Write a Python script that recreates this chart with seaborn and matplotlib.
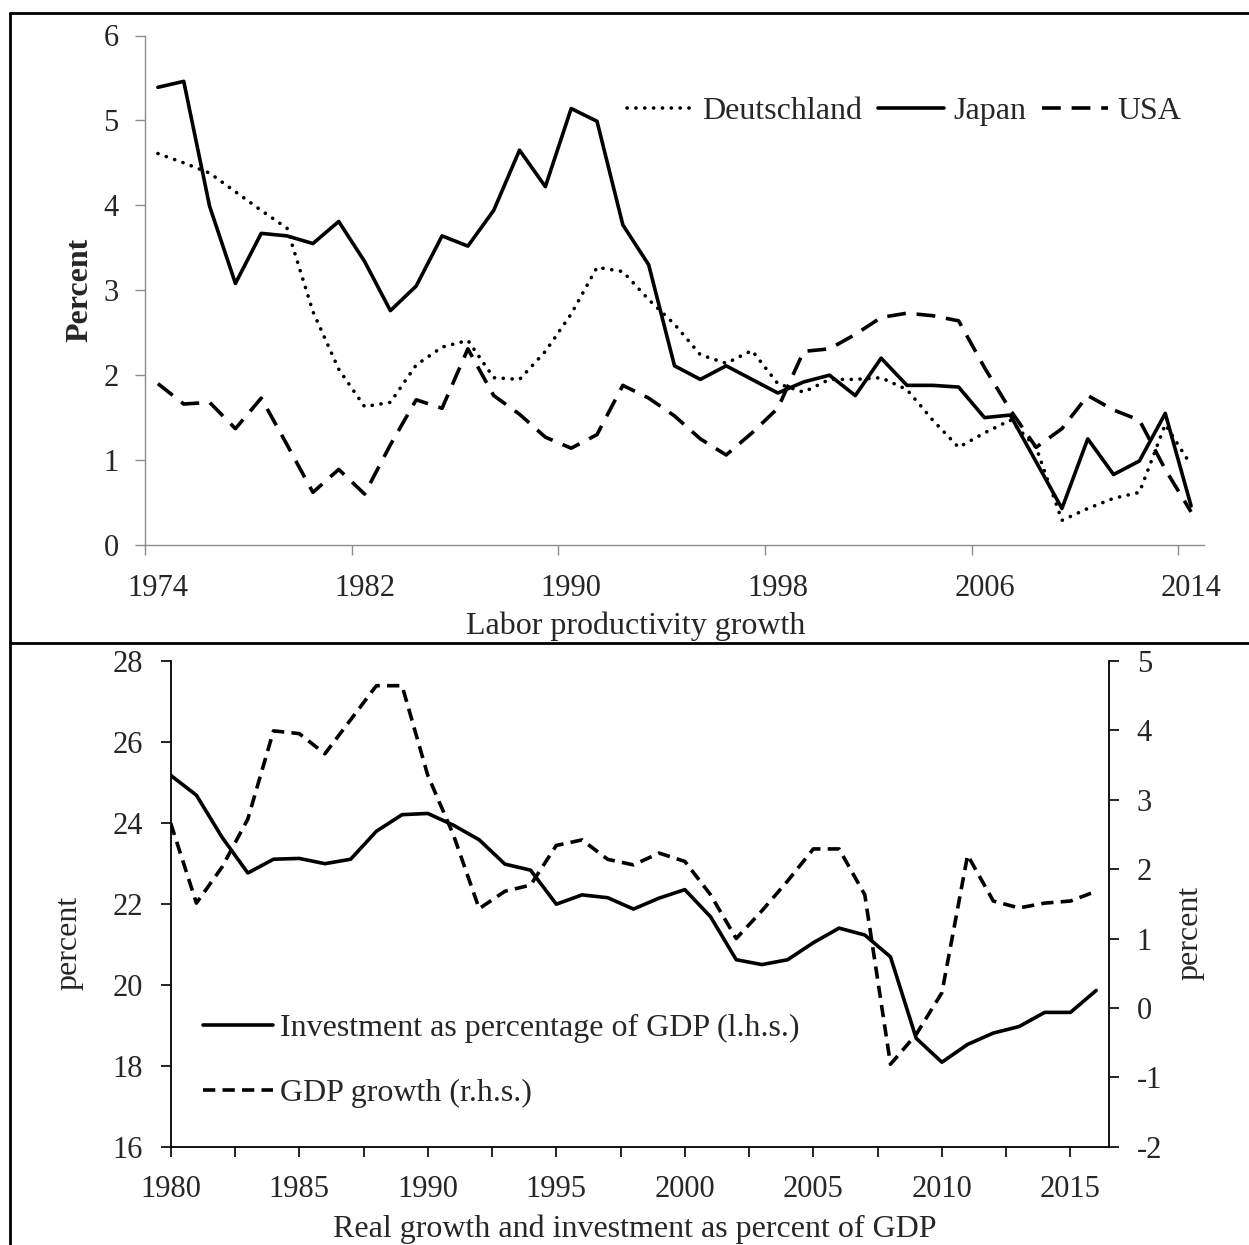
import numpy as np
import pandas as pd
import matplotlib
matplotlib.use("Agg")
import matplotlib.pyplot as plt
import seaborn as sns
from matplotlib.lines import Line2D

# ---------------- data ----------------
years_top = list(range(1974, 2015))
deutschland = [4.61, 4.50, 4.38, 4.16, 3.94, 3.73, 2.75, 2.07, 1.63, 1.68,
               2.12, 2.33, 2.41, 1.97, 1.95, 2.28, 2.72, 3.27, 3.22, 2.89,
               2.60, 2.24, 2.14, 2.29, 1.90, 1.80, 1.95, 1.95, 1.97, 1.83,
               1.47, 1.15, 1.32, 1.47, 1.15, 0.29, 0.43, 0.55, 0.62, 1.42,
               0.94]
japan = [5.39, 5.46, 3.99, 3.08, 3.67, 3.64, 3.55, 3.81, 3.34, 2.76,
         3.05, 3.64, 3.52, 3.94, 4.65, 4.22, 5.14, 4.99, 3.77, 3.30,
         2.11, 1.95, 2.11, 1.95, 1.79, 1.92, 2.00, 1.76, 2.20, 1.88,
         1.88, 1.86, 1.50, 1.53, 0.98, 0.43, 1.25, 0.83, 0.99, 1.55,
         0.46]
usa = [1.90, 1.66, 1.68, 1.37, 1.73, 1.18, 0.62, 0.89, 0.60, 1.18,
       1.71, 1.61, 2.31, 1.76, 1.54, 1.27, 1.14, 1.30, 1.88, 1.73,
       1.52, 1.25, 1.06, 1.32, 1.61, 2.28, 2.31, 2.48, 2.68, 2.73,
       2.70, 2.64, 2.09, 1.59, 1.15, 1.37, 1.76, 1.59, 1.47, 0.89,
       0.39]
top_tick_labels = ["1974", "1982", "1990", "1998", "2006", "2014"]

years_bottom = list(range(1980, 2017))
investment = [25.17, 24.68, 23.64, 22.76, 23.10, 23.12, 22.99, 23.10, 23.79, 24.20,
              24.23, 23.94, 23.58, 22.98, 22.83, 21.99, 22.22, 22.15, 21.87, 22.14,
              22.35, 21.68, 20.62, 20.50, 20.62, 21.04, 21.40, 21.23, 20.69, 18.68,
              18.09, 18.53, 18.81, 18.97, 19.32, 19.32, 19.86]
gdp_growth = [2.66, 1.51, 2.03, 2.72, 3.99, 3.95, 3.66, 4.15, 4.64, 4.64,
              3.35, 2.49, 1.43, 1.68, 1.77, 2.34, 2.42, 2.14, 2.06, 2.23,
              2.11, 1.63, 1.00, 1.40, 1.83, 2.29, 2.29, 1.63, -0.81, -0.38,
              0.22, 2.20, 1.54, 1.44, 1.51, 1.54, 1.68]

# ---------------- style ----------------
sns.set_style("white")
plt.rcParams["font.family"] = ["Liberation Serif", "DejaVu Serif"]
plt.rcParams["axes.unicode_minus"] = False
FS_TICK = 22
FS = 23

W, H = 1249, 1245
fig = plt.figure(figsize=(W / 100, H / 100), dpi=100)

def fx(px):
    return px / W

def fy(py):
    return 1 - py / H

# ---------------- top panel ----------------
gray = "#8c8c8c"
ax1 = fig.add_axes([fx(145), fy(545), fx(1204) - fx(145), fy(35.5) - fy(545)])
df_top = pd.DataFrame({"year": years_top, "Deutschland": deutschland,
                       "Japan": japan, "USA": usa})
lw = 2.6
sns.lineplot(data=df_top, x="year", y="Deutschland", ax=ax1, color="black",
             linewidth=lw, linestyle=(0, (0.05, 2.4)), dash_capstyle="round",
             label="Deutschland")
sns.lineplot(data=df_top, x="year", y="Japan", ax=ax1, color="black",
             linewidth=lw, label="Japan")
sns.lineplot(data=df_top, x="year", y="USA", ax=ax1, color="black",
             linewidth=lw, linestyle=(0, (5.2, 3.0)), label="USA")

ax1.set_xlim(1973.5, 2014.5)
ax1.set_ylim(0, 6)
ax1.set_yticks(range(0, 7))
major_pos = [int(t) for t in top_tick_labels]
ax1.set_xticks(major_pos)
ax1.set_xticklabels(top_tick_labels)
ax1.set_xticks([p - 0.5 for p in major_pos], minor=True)
ax1.tick_params(axis="x", which="major", length=0, pad=21, labelsize=FS_TICK)
ax1.tick_params(axis="x", which="minor", length=7, width=1, color=gray,
                direction="out", bottom=True)
ax1.tick_params(axis="y", which="major", length=7, width=1, color=gray,
                direction="out", left=True, pad=12, labelsize=FS_TICK)
for s in ["top", "right"]:
    ax1.spines[s].set_visible(False)
for s in ["left", "bottom"]:
    ax1.spines[s].set_color(gray)
    ax1.spines[s].set_linewidth(1.0)
ax1.set_ylabel("Percent", fontsize=FS, fontweight="bold")
ax1.yaxis.set_label_coords(-0.048, 0.5)
ax1.set_xlabel("Labor productivity growth", fontsize=FS)
ax1.xaxis.set_label_coords(0.4636, -0.130)
ax1.grid(False)
ax1.legend(loc="center", bbox_to_anchor=(fx(904), fy(111)),
           bbox_transform=fig.transFigure, ncol=3, frameon=False,
           fontsize=FS, handlelength=2.07, handletextpad=0.28,
           columnspacing=0.5, borderpad=0, borderaxespad=0)

# ---------------- bottom panel ----------------
ax2 = fig.add_axes([fx(170.7), fy(1146.9), fx(1109) - fx(170.7), fy(660.7) - fy(1146.9)])
ax3 = ax2.twinx()
df_bot = pd.DataFrame({"year": years_bottom, "investment": investment,
                       "gdp": gdp_growth})
sns.lineplot(data=df_bot, x="year", y="investment", ax=ax2, color="black",
             linewidth=lw, label="Investment as percentage of GDP (l.h.s.)")
sns.lineplot(data=df_bot, x="year", y="gdp", ax=ax3, color="black",
             linewidth=lw, linestyle=(0, (3.4, 2.0)),
             label="GDP growth (r.h.s.)")

ax2.set_xlim(1980, 2016.5)
ax2.set_ylim(16, 28)
ax2.set_yticks(range(16, 29, 2))
ax3.set_ylim(-2, 5)
ax3.set_yticks(range(-2, 6))
ax2.set_xticks(range(1980, 2016, 5))
ax2.set_xticks([1982.5 + 5 * i for i in range(7)], minor=True)
ax2.tick_params(axis="x", which="both", length=7, width=1.2, color="black",
                direction="out", bottom=True, pad=13, labelsize=FS_TICK)
ax2.tick_params(axis="y", length=7, width=1.2, color="black", direction="out",
                left=True, pad=13, labelsize=FS_TICK)
ax3.tick_params(axis="y", length=7, width=1.2, color="black", direction="out",
                right=True, pad=13, labelsize=FS_TICK)
for a in (ax2, ax3):
    a.spines["top"].set_visible(False)
    for s in ["left", "bottom", "right"]:
        a.spines[s].set_color("black")
        a.spines[s].set_linewidth(1.3)
    a.grid(False)
ax2.spines["right"].set_visible(False)
ax3.spines["left"].set_visible(False)
ax3.spines["bottom"].set_visible(False)

ax2.set_ylabel("percent", fontsize=FS)
ax2.yaxis.set_label_coords(-0.093, 0.419)
ax3.set_ylabel("percent", fontsize=FS, rotation=90)
ax3.yaxis.set_label_coords(1.071, 0.44)
ax2.set_xlabel("Real growth and investment as percent of GDP", fontsize=FS)
ax2.xaxis.set_label_coords(0.4948, -0.139)

h2, l2 = ax2.get_legend_handles_labels()
h3, l3 = ax3.get_legend_handles_labels()
if ax3.get_legend() is not None:
    ax3.get_legend().remove()
ax2.legend(h2 + h3, l2 + l3, loc="center left",
           bbox_to_anchor=(fx(203), fy(1061)), bbox_transform=fig.transFigure,
           frameon=False, fontsize=FS, handlelength=2.2, handletextpad=0.22,
           labelspacing=1.1, borderpad=0, borderaxespad=0)

# ---------------- frame lines ----------------
frame_kw = dict(color="black", linewidth=2.0, transform=fig.transFigure)
fig.add_artist(Line2D([fx(10), 1], [fy(12.7), fy(12.7)], **frame_kw))
fig.add_artist(Line2D([fx(10), 1], [fy(643), fy(643)], **frame_kw))
fig.add_artist(Line2D([fx(10), fx(10)], [0, fy(12.7)], **frame_kw))

fig.savefig("out.png", dpi=100, facecolor="white")
